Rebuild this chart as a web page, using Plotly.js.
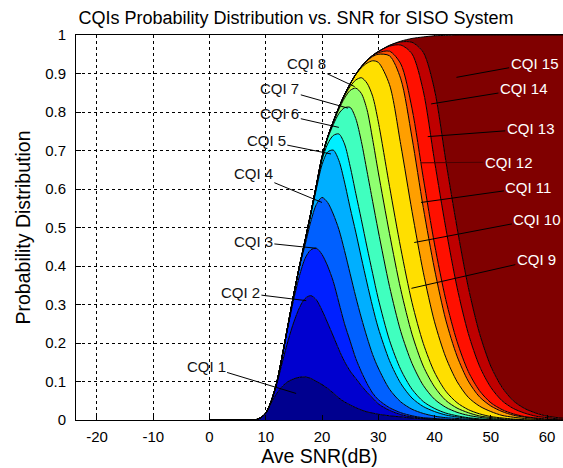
<!DOCTYPE html>
<html>
<head>
<meta charset="utf-8">
<script src="https://cdn.plot.ly/plotly-3.0.1.min.js"></script>
<style>
  html, body { margin: 0; padding: 0; background: #ffffff; }
  #chart { width: 563px; height: 468px; }
</style>
</head>
<body>
<div id="chart"></div>
<script>
// Average SNR (dB) sample points
const snr = [0, 6, 8, 9, 10, 11, 12, 13, 14, 15, 16, 17, 18, 19, 20, 21, 22, 23, 24, 25, 26, 27, 28, 29, 30,
             32, 34, 36, 38, 40, 42, 44, 46, 48, 50, 52, 54, 56, 58, 60, 62, 63];

// Cumulative probability P(1 <= CQI <= k) read from the stacked areas
const cum1 = [0, 0, 0, 0.005, 0.017, 0.045, 0.07, 0.088, 0.10, 0.107, 0.111, 0.112, 0.108, 0.10, 0.092, 0.082, 0.07, 0.057, 0.047, 0.039, 0.032, 0.026, 0.021, 0.018, 0.015,
              0.011, 0.008, 0.005, 0.003, 0.002, 0.001, 0, 0, 0, 0, 0, 0, 0, 0, 0, 0, 0];
const cum2 = [0, 0, 0, 0.005, 0.018, 0.05, 0.095, 0.153, 0.208, 0.255, 0.292, 0.316, 0.323, 0.312, 0.285, 0.252, 0.218, 0.183, 0.152, 0.127, 0.108, 0.089, 0.072, 0.057, 0.042,
              0.025, 0.014, 0.008, 0.004, 0.002, 0.001, 0, 0, 0, 0, 0, 0, 0, 0, 0, 0, 0];
const cum3 = [0, 0, 0, 0.005, 0.018, 0.05, 0.10, 0.17, 0.245, 0.315, 0.375, 0.42, 0.442, 0.446, 0.43, 0.40, 0.36, 0.305, 0.25, 0.205, 0.16, 0.125, 0.095, 0.07, 0.053,
              0.032, 0.019, 0.011, 0.006, 0.004, 0.002, 0.001, 0, 0, 0, 0, 0, 0, 0, 0, 0, 0];
const cum4 = [0, 0, 0, 0.005, 0.018, 0.05, 0.10, 0.172, 0.25, 0.327, 0.398, 0.455, 0.515, 0.56, 0.578, 0.565, 0.535, 0.495, 0.44, 0.38, 0.32, 0.265, 0.215, 0.17, 0.135,
              0.08, 0.047, 0.028, 0.017, 0.01, 0.006, 0.004, 0.002, 0.001, 0, 0, 0, 0, 0, 0, 0, 0];
const cum5 = [0, 0, 0, 0.005, 0.018, 0.05, 0.10, 0.172, 0.25, 0.328, 0.40, 0.465, 0.532, 0.60, 0.663, 0.696, 0.701, 0.674, 0.618, 0.551, 0.488, 0.421, 0.356, 0.294, 0.239,
              0.154, 0.095, 0.057, 0.035, 0.022, 0.013, 0.008, 0.0045, 0.002, 0.0005, 0, 0, 0, 0, 0, 0, 0];
const cum6 = [0, 0, 0, 0.005, 0.018, 0.05, 0.10, 0.172, 0.25, 0.328, 0.40, 0.467, 0.535, 0.605, 0.675, 0.717, 0.739, 0.743, 0.717, 0.659, 0.589, 0.520, 0.449, 0.381, 0.315,
              0.207, 0.131, 0.080, 0.048, 0.030, 0.018, 0.011, 0.006, 0.003, 0.001, 0, 0, 0, 0, 0, 0, 0];
const cum7 = [0, 0, 0, 0.005, 0.018, 0.05, 0.10, 0.172, 0.25, 0.328, 0.40, 0.467, 0.537, 0.61, 0.682, 0.731, 0.767, 0.796, 0.811, 0.812, 0.783, 0.723, 0.646, 0.568, 0.491,
              0.347, 0.230, 0.147, 0.090, 0.054, 0.033, 0.020, 0.012, 0.007, 0.0036, 0.0014, 0, 0, 0, 0, 0, 0];
const cum8 = [0, 0, 0, 0.005, 0.018, 0.05, 0.10, 0.172, 0.25, 0.328, 0.40, 0.467, 0.537, 0.61, 0.683, 0.735, 0.773, 0.807, 0.836, 0.856, 0.862, 0.848, 0.806, 0.729, 0.644,
              0.484, 0.339, 0.223, 0.140, 0.086, 0.051, 0.031, 0.019, 0.0105, 0.0063, 0.0032, 0.0011, 0, 0, 0, 0, 0];
const cum9 = [0, 0, 0, 0.005, 0.018, 0.05, 0.10, 0.172, 0.25, 0.328, 0.40, 0.467, 0.537, 0.61, 0.683, 0.735, 0.775, 0.812, 0.842, 0.866, 0.883, 0.889, 0.875, 0.841, 0.775,
              0.607, 0.446, 0.305, 0.199, 0.124, 0.075, 0.045, 0.027, 0.016, 0.009, 0.0053, 0.0025, 0.0008, 0, 0, 0, 0];
const cum10 = [0, 0, 0, 0.005, 0.018, 0.05, 0.10, 0.172, 0.25, 0.328, 0.40, 0.467, 0.537, 0.61, 0.683, 0.735, 0.775, 0.812, 0.845, 0.873, 0.897, 0.915, 0.927, 0.933, 0.929,
               0.871, 0.715, 0.542, 0.384, 0.255, 0.163, 0.100, 0.059, 0.036, 0.022, 0.012, 0.0072, 0.0039, 0.0016, 0.0003, 0, 0];
const cum11 = [0, 0, 0, 0.005, 0.018, 0.05, 0.10, 0.172, 0.25, 0.328, 0.40, 0.467, 0.537, 0.61, 0.683, 0.735, 0.775, 0.812, 0.845, 0.873, 0.898, 0.918, 0.933, 0.944, 0.950,
               0.946, 0.886, 0.733, 0.552, 0.392, 0.260, 0.166, 0.101, 0.060, 0.0365, 0.022, 0.0126, 0.0073, 0.004, 0.0016, 0.0002, 0];
const cum12 = [0, 0, 0, 0.005, 0.018, 0.05, 0.10, 0.172, 0.25, 0.328, 0.40, 0.467, 0.537, 0.61, 0.683, 0.735, 0.775, 0.812, 0.845, 0.873, 0.898, 0.918, 0.934, 0.947, 0.954,
               0.958, 0.925, 0.809, 0.629, 0.457, 0.313, 0.204, 0.126, 0.076, 0.045, 0.027, 0.016, 0.009, 0.0053, 0.0025, 0.0008, 0.0002];
const cum13 = [0, 0, 0, 0.005, 0.018, 0.05, 0.10, 0.172, 0.25, 0.328, 0.40, 0.467, 0.537, 0.61, 0.683, 0.735, 0.775, 0.812, 0.845, 0.873, 0.898, 0.918, 0.934, 0.947, 0.957,
               0.971, 0.974, 0.951, 0.855, 0.673, 0.499, 0.345, 0.225, 0.14, 0.085, 0.05, 0.03, 0.018, 0.01, 0.006, 0.003, 0.002];
const cum14 = [0, 0, 0, 0.005, 0.018, 0.05, 0.10, 0.172, 0.25, 0.328, 0.40, 0.467, 0.537, 0.61, 0.683, 0.735, 0.775, 0.812, 0.845, 0.873, 0.898, 0.918, 0.934, 0.947, 0.957,
               0.973, 0.982, 0.981, 0.955, 0.858, 0.674, 0.5, 0.345, 0.225, 0.14, 0.085, 0.05, 0.03, 0.018, 0.01, 0.006, 0.0045];
const cum15 = [0, 0, 0, 0.005, 0.018, 0.05, 0.10, 0.172, 0.25, 0.328, 0.40, 0.467, 0.537, 0.61, 0.683, 0.735, 0.775, 0.812, 0.845, 0.873, 0.898, 0.918, 0.934, 0.947, 0.957,
               0.973, 0.984, 0.991, 0.995, 0.998, 0.999, 1, 1, 1, 1, 1, 1, 1, 1, 1, 1, 1];

const cqiNames = ['CQI 1','CQI 2','CQI 3','CQI 4','CQI 5','CQI 6','CQI 7','CQI 8',
                  'CQI 9','CQI 10','CQI 11','CQI 12','CQI 13','CQI 14','CQI 15'];
const cqiColors = ['#00008F','#0000CF','#0020FF','#0060FF','#00AFFF','#00EFFF','#40FFBF','#8FFF70',
                   '#CFFF30','#FFDF00','#FF9F00','#FF5000','#FF1000','#BF0000','#800000'];

// Label text positions and the points their lines touch (data units)
const labelTextX = [-0.6, 5.5, 7.8, 7.8, 10.1, 12.5, 12.5, 17.2, 58.1, 58.3, 56.7, 53.2, 57.1, 55.9, 57.8];
const labelTextY = [0.140, 0.331, 0.463, 0.639, 0.725, 0.795, 0.860, 0.925, 0.416, 0.522, 0.604, 0.670, 0.756, 0.860, 0.927];
const labelTipX  = [15.4, 17.2, 19.0, 20.0, 21.6, 23.0, 24.6, 25.8, 35.9, 36.4, 37.6, 37.6, 38.8, 39.4, 43.9];
const labelTipY  = [0.069, 0.310, 0.446, 0.565, 0.691, 0.760, 0.810, 0.866, 0.342, 0.461, 0.565, 0.668, 0.736, 0.821, 0.890];

const xTicks = [-20, -10, 0, 10, 20, 30, 40, 50, 60];
const yTicks = [0, 0.1, 0.2, 0.3, 0.4, 0.5, 0.6, 0.7, 0.8, 0.9, 1];
const yTickText = ['0', '0.1', '0.2', '0.3', '0.4', '0.5', '0.6', '0.7', '0.8', '0.9', '1'];

const cumSeries = [cum1, cum2, cum3, cum4, cum5, cum6, cum7, cum8, cum9, cum10, cum11, cum12, cum13, cum14, cum15];

const FONT = 'Liberation Sans, Arial, Helvetica, sans-serif';

const traces = cumSeries.map((ys, i) => ({
  type: 'scatter',
  mode: 'lines',
  name: cqiNames[i],
  x: snr,
  y: ys,
  fill: i === 0 ? 'tozeroy' : 'tonexty',
  fillcolor: cqiColors[i],
  line: { color: '#000000', width: 1, shape: 'spline', smoothing: 0.8 },
  hoverinfo: 'skip'
}));

const annotations = cqiNames.map((name, i) => ({
  xref: 'x', yref: 'y', axref: 'x', ayref: 'y',
  x: labelTipX[i], y: labelTipY[i],
  ax: labelTextX[i], ay: labelTextY[i],
  text: name,
  showarrow: true,
  arrowhead: 0,
  arrowwidth: 1,
  arrowcolor: i === 11 ? '#4a0000' : '#000000',
  standoff: 0,
  startstandoff: 0,
  font: { family: FONT, size: 15, color: i >= 8 ? '#ffffff' : '#111111' }
}));

const axisCommon = {
  showline: true, linecolor: '#000000', linewidth: 1, mirror: true,
  ticks: 'inside', ticklen: 5, tickcolor: '#000000', tickwidth: 1,
  showgrid: true, gridcolor: '#000000', griddash: 'dot', gridwidth: 1,
  zeroline: false, layer: 'above traces',
  tickfont: { family: FONT, size: 15, color: '#000000' }
};

const layout = {
  width: 563, height: 468,
  margin: { l: 76, r: 0, t: 35, b: 48, pad: 0 },
  paper_bgcolor: '#ffffff', plot_bgcolor: '#ffffff',
  showlegend: false,
  font: { family: FONT, color: '#000000' },
  title: {
    text: 'CQIs Probability Distribution vs. SNR for SISO System',
    font: { family: FONT, size: 18, color: '#000000' },
    xref: 'container', yref: 'container',
    x: 296 / 563, xanchor: 'center',
    y: 1 - 18 / 468, yanchor: 'middle'
  },
  xaxis: Object.assign({}, axisCommon, {
    range: [-23.73, 62.84],
    tickvals: xTicks,
    ticktext: xTicks.map(String),
    ticklabelstandoff: 3,
    automargin: false,
    title: { text: 'Ave SNR(dB)', font: { family: FONT, size: 19.5, color: '#000000' }, standoff: 3 }
  }),
  yaxis: Object.assign({}, axisCommon, {
    range: [0, 1],
    tickvals: yTicks,
    ticktext: yTickText,
    ticklabelstandoff: 6,
    automargin: false,
    title: { text: 'Probability Distribution', font: { family: FONT, size: 19.5, color: '#000000' }, standoff: 9 }
  }),
  annotations: annotations
};

Plotly.newPlot('chart', traces, layout, { staticPlot: true, displayModeBar: false });
</script>
</body>
</html>
